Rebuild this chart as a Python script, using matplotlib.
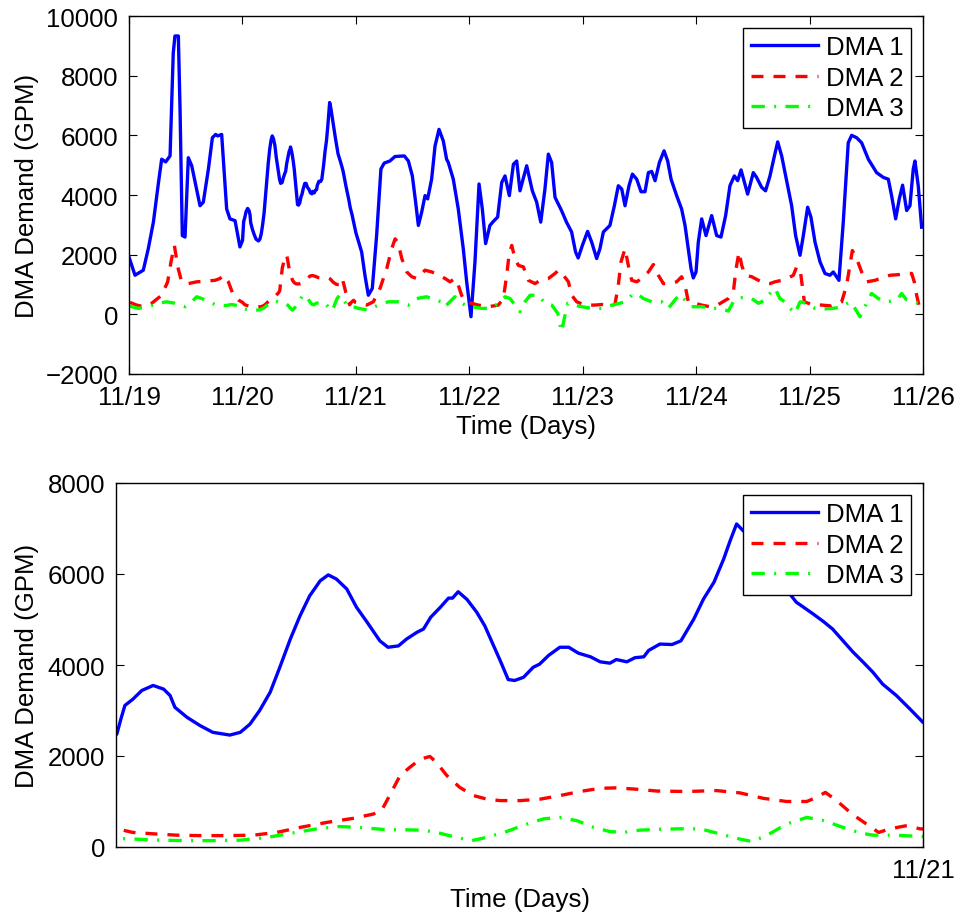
"""
DMA demand over one week, plus a zoom on a single day
"""
import matplotlib
matplotlib.use("Agg")
import matplotlib.pyplot as plt
import numpy as np

plt.rcParams['font.family'] = ['Liberation Sans', 'DejaVu Sans']
plt.rcParams['font.size'] = 18.6

DAY_LABELS = ["11/19", "11/20", "11/21", "11/22", "11/23", "11/24", "11/25", "11/26"]
NAMES = ["DMA 1", "DMA 2", "DMA 3"]

# (days after 11/19 00:00, demand in GPM)
DMA1 = [
    (0.0, 1920), (0.053, 1310), (0.126, 1480), (0.17, 2200), (0.215, 3090), (0.26, 4420),
    (0.288, 5200), (0.323, 5110), (0.362, 5310), (0.39, 8750), (0.405, 9330), (0.435, 9330),
    (0.45, 6870), (0.47, 2640), (0.494, 2590), (0.523, 5250), (0.553, 4980), (0.626, 3640),
    (0.655, 3760), (0.70, 4870), (0.735, 5920), (0.764, 6030), (0.782, 5980), (0.817, 6030),
    (0.861, 3530), (0.89, 3200), (0.935, 3140), (0.978, 2260),
    (1.001, 2480), (1.006, 2810), (1.011, 3110), (1.021, 3250), (1.032, 3440), (1.046, 3550),
    (1.059, 3470), (1.067, 3330), (1.073, 3070), (1.088, 2850), (1.104, 2670), (1.12, 2520),
    (1.141, 2460), (1.154, 2520), (1.166, 2700), (1.178, 3000), (1.191, 3400), (1.203, 3950),
    (1.216, 4570), (1.228, 5080), (1.24, 5520), (1.253, 5850), (1.263, 5980), (1.273, 5890),
    (1.286, 5670), (1.298, 5270), (1.31, 4970), (1.327, 4530), (1.337, 4390), (1.35, 4420),
    (1.36, 4570), (1.373, 4720), (1.381, 4790), (1.39, 5050), (1.402, 5270), (1.412, 5470),
    (1.417, 5470), (1.424, 5610), (1.435, 5440), (1.447, 5160), (1.457, 4860), (1.466, 4500),
    (1.476, 4100), (1.486, 3680), (1.494, 3660), (1.505, 3730), (1.517, 3950), (1.525, 4020),
    (1.536, 4210), (1.55, 4390), (1.561, 4390), (1.573, 4260), (1.588, 4180), (1.6, 4070),
    (1.612, 4040), (1.62, 4120), (1.633, 4070), (1.643, 4160), (1.654, 4180), (1.66, 4320),
    (1.674, 4460), (1.689, 4450), (1.7, 4530), (1.716, 5010), (1.728, 5450), (1.741, 5820),
    (1.753, 6330), (1.761, 6730), (1.769, 7100), (1.78, 6900), (1.80, 6400), (1.82, 5900),
    (1.843, 5380), (1.852, 5270), (1.864, 5120), (1.877, 4950), (1.888, 4790), (1.901, 4530),
    (1.913, 4290), (1.926, 4060), (1.938, 3840), (1.95, 3580), (1.967, 3330), (1.984, 3030),
    (2.0, 2740),
    (2.051, 2090), (2.08, 1310), (2.11, 640), (2.145, 870), (2.183, 2640), (2.221, 4870),
    (2.25, 5070), (2.30, 5140), (2.345, 5290), (2.427, 5310), (2.463, 5140), (2.498, 4640),
    (2.527, 3760), (2.551, 2980), (2.58, 3420), (2.61, 3980), (2.633, 3870), (2.668, 4530),
    (2.698, 5640), (2.733, 6200), (2.771, 5810), (2.80, 5200), (2.815, 5090), (2.859, 4530),
    (2.903, 3530), (2.947, 2200), (2.977, 1090), (3.015, -80), (3.05, 1750), (3.086, 4370),
    (3.115, 3530), (3.144, 2370), (3.182, 2980), (3.211, 3110), (3.25, 3260), (3.286, 4420),
    (3.315, 4640), (3.353, 3980), (3.389, 5030), (3.418, 5140), (3.447, 4140), (3.506, 4980),
    (3.556, 4140), (3.594, 3760), (3.63, 3090), (3.667, 4200), (3.697, 5370), (3.726, 5090),
    (3.756, 3920), (3.813, 3480), (3.857, 3090), (3.902, 2760), (3.937, 2090), (3.96, 1890),
    (3.997, 2310), (4.043, 2780), (4.079, 2420), (4.123, 1870), (4.152, 2200), (4.182, 2760),
    (4.24, 2980), (4.279, 3640), (4.314, 4310), (4.344, 4200), (4.373, 3640), (4.408, 4310),
    (4.438, 4700), (4.476, 4530), (4.514, 4110), (4.549, 4110), (4.579, 4750), (4.608, 4790),
    (4.638, 4480), (4.676, 5090), (4.717, 5480), (4.749, 5140), (4.779, 4530), (4.828, 3980),
    (4.872, 3530), (4.902, 2980), (4.931, 2200), (4.955, 1530), (4.975, 1220), (4.999, 1420),
    (5.019, 2420), (5.049, 3200), (5.087, 2640), (5.137, 3310), (5.181, 2640), (5.219, 2590),
    (5.26, 3310), (5.298, 4310), (5.337, 4640), (5.366, 4480), (5.396, 4840), (5.43, 4370),
    (5.454, 4030), (5.504, 4750), (5.533, 4590), (5.577, 4260), (5.612, 4140), (5.651, 4640),
    (5.69, 5310), (5.719, 5780), (5.754, 5310), (5.798, 4480), (5.842, 3640), (5.877, 2640),
    (5.916, 1980), (5.945, 2640), (5.983, 3590), (6.012, 3260), (6.048, 2420), (6.092, 1760),
    (6.136, 1370), (6.18, 1310), (6.209, 1420), (6.259, 1140), (6.297, 3090), (6.341, 5750),
    (6.371, 6000), (6.415, 5920), (6.459, 5750), (6.518, 5200), (6.591, 4750), (6.65, 4590),
    (6.694, 4530), (6.723, 3980), (6.759, 3200), (6.791, 3870), (6.82, 4330), (6.856, 3480),
    (6.885, 3640), (6.914, 4870), (6.929, 5140), (6.958, 4310), (6.988, 2920),
]

DMA2 = [
    (0.009, 400), (0.068, 310), (0.127, 255), (0.2, 370), (0.288, 640), (0.341, 1090),
    (0.37, 1750), (0.4, 2310), (0.43, 1590), (0.464, 1090), (0.523, 1030), (0.597, 1090),
    (0.67, 1110), (0.758, 1140), (0.802, 1200), (0.832, 1310), (0.876, 1090), (0.92, 640),
    (0.964, 480),
    (1.001, 400), (1.021, 320), (1.046, 290), (1.075, 260), (1.104, 250), (1.137, 250),
    (1.17, 260), (1.199, 320), (1.228, 430), (1.261, 540), (1.294, 630), (1.319, 725),
    (1.329, 800), (1.339, 1130), (1.352, 1570), (1.364, 1750), (1.377, 1930), (1.389, 1990),
    (1.397, 1860), (1.41, 1570), (1.426, 1310), (1.443, 1130), (1.46, 1050), (1.476, 1020),
    (1.501, 1020), (1.525, 1050), (1.55, 1130), (1.575, 1220), (1.6, 1290), (1.62, 1300),
    (1.645, 1270), (1.67, 1230), (1.707, 1220), (1.744, 1240), (1.773, 1190), (1.802, 1070),
    (1.831, 1000), (1.856, 1000), (1.868, 1090), (1.879, 1200), (1.893, 1020), (1.912, 725),
    (1.93, 505), (1.945, 320), (1.959, 400), (1.98, 470), (1.996, 400),
    (2.022, 370), (2.095, 310), (2.154, 420), (2.213, 870), (2.272, 1530), (2.316, 2200),
    (2.346, 2530), (2.37, 2420), (2.405, 1870), (2.449, 1420), (2.493, 1260), (2.537, 1200),
    (2.61, 1480), (2.67, 1420), (2.73, 1310), (2.787, 1200), (2.83, 1090), (2.873, 1200),
    (2.903, 980), (2.932, 640), (2.962, 420), (3.021, 370), (3.08, 310), (3.168, 255),
    (3.256, 310), (3.3, 530), (3.33, 1310), (3.35, 1980), (3.374, 2310), (3.403, 1870),
    (3.433, 1640), (3.477, 1590), (3.521, 1140), (3.58, 1030), (3.624, 1140), (3.697, 1200),
    (3.756, 1370), (3.786, 1480), (3.83, 1310), (3.874, 1090), (3.903, 640), (3.947, 420),
    (4.02, 310), (4.108, 310), (4.167, 330), (4.24, 300), (4.284, 330), (4.314, 980),
    (4.337, 1750), (4.373, 2200), (4.402, 1640), (4.432, 1140), (4.476, 1090), (4.52, 1200),
    (4.579, 1420), (4.623, 1670), (4.667, 1310), (4.711, 1030), (4.769, 1030), (4.828, 1090),
    (4.872, 1260), (4.902, 980), (4.931, 420), (4.99, 370), (5.049, 310), (5.122, 255),
    (5.196, 330), (5.284, 530), (5.328, 750), (5.352, 1530), (5.378, 2090), (5.402, 1640),
    (5.432, 1310), (5.49, 1260), (5.549, 1140), (5.608, 1030), (5.651, 1030), (5.695, 1090),
    (5.754, 1140), (5.813, 1220), (5.857, 1310), (5.886, 1590), (5.916, 1530), (5.939, 870),
    (5.954, 420), (6.018, 330), (6.107, 310), (6.195, 280), (6.283, 420), (6.327, 980),
    (6.356, 1640), (6.377, 2140), (6.415, 1870), (6.459, 1420), (6.503, 1090), (6.577, 1140),
    (6.635, 1220), (6.709, 1310), (6.782, 1330), (6.841, 1370), (6.9, 1370), (6.923, 1090),
    (6.944, 640), (6.964, 310), (6.988, 330),
]

DMA3 = [
    (0.0, 280), (0.082, 200), (0.17, 255), (0.259, 370), (0.332, 420), (0.406, 370),
    (0.494, 255), (0.553, 420), (0.597, 590), (0.641, 530), (0.7, 420), (0.773, 310),
    (0.847, 290), (0.905, 330), (0.979, 280),
    (1.001, 190), (1.021, 175), (1.054, 150), (1.087, 140), (1.12, 140), (1.154, 150),
    (1.187, 210), (1.22, 310), (1.249, 400), (1.277, 450), (1.302, 430), (1.335, 380),
    (1.352, 380), (1.381, 370), (1.402, 300), (1.422, 210), (1.441, 140), (1.459, 210),
    (1.484, 340), (1.505, 480), (1.53, 620), (1.55, 650), (1.571, 580), (1.592, 430),
    (1.612, 340), (1.629, 320), (1.649, 370), (1.674, 390), (1.699, 400), (1.724, 400),
    (1.748, 290), (1.773, 175), (1.788, 120), (1.806, 250), (1.831, 505), (1.856, 650),
    (1.877, 580), (1.901, 430), (1.922, 310), (1.938, 260), (1.963, 260), (2.0, 230),
    (2.022, 200), (2.11, 145), (2.198, 310), (2.286, 420), (2.374, 420), (2.463, 310),
    (2.536, 530), (2.624, 590), (2.698, 480), (2.757, 420), (2.786, 255), (2.845, 480),
    (2.873, 590), (2.918, 420), (2.962, 310), (3.021, 255), (3.109, 200), (3.197, 200),
    (3.271, 420), (3.315, 590), (3.359, 530), (3.403, 310), (3.447, 90), (3.491, 420),
    (3.536, 640), (3.609, 640), (3.668, 370), (3.727, 310), (3.78, 35), (3.8, -360),
    (3.815, -580), (3.838, -130), (3.868, 370), (3.918, 310), (3.991, 255), (4.079, 200),
    (4.167, 200), (4.196, 255), (4.284, 330), (4.373, 420), (4.432, 640), (4.476, 700),
    (4.535, 530), (4.608, 420), (4.696, 420), (4.755, 200), (4.813, 480), (4.857, 670),
    (4.902, 480), (4.96, 255), (5.049, 255), (5.137, 200), (5.21, 200), (5.284, 110),
    (5.328, 420), (5.372, 560), (5.432, 560), (5.49, 530), (5.549, 370), (5.608, 480),
    (5.651, 700), (5.695, 870), (5.739, 530), (5.798, 370), (5.842, 145), (5.872, 35),
    (5.916, 420), (5.975, 370), (6.048, 200), (6.121, 180), (6.209, 200), (6.283, 255),
    (6.356, 420), (6.4, 200), (6.444, -80), (6.488, 255), (6.547, 700), (6.606, 530),
    (6.665, 420), (6.723, 440), (6.782, 530), (6.811, 700), (6.856, 480), (6.914, 420),
    (6.958, 370), (6.988, 370),
]

STYLES = [
    dict(color=(0, 0, 1), linestyle='-'),
    dict(color=(1, 0, 0), dashes=(3.6, 3.0)),
    dict(color=(0, 1, 0), dashes=(4.0, 2.8, 0.6, 2.8)),
]


def plot_demand(ax):
    for data, name, style in zip([DMA1, DMA2, DMA3], NAMES, STYLES):
        t, v = np.array(data, dtype=float).T
        ax.plot(t, v, lw=2.4, label=name, **style)
    ax.set_ylabel("DMA Demand (GPM)")
    ax.set_xlabel("Time (Days)")
    ax.tick_params(direction='in', top=True, right=True, length=6, width=0.8, pad=8)
    for s in ax.spines.values():
        s.set_linewidth(1.0)
    ax.legend(loc='upper right', fancybox=False, framealpha=1, edgecolor='black',
              handlelength=2.6, handletextpad=0.3, labelspacing=0.25,
              borderpad=0.3, borderaxespad=0.45)
    ax.get_legend().get_frame().set_linewidth(1.0)


fig = plt.figure(figsize=(9.6, 9.2), dpi=100)

ax1 = fig.add_axes([129 / 960, 1 - 375 / 920, 794 / 960, 358 / 920])
plot_demand(ax1)
ax1.set_xlim(0, 7)
ax1.set_ylim(-2000, 10000)
ax1.set_yticks(np.arange(-2000, 10001, 2000))
ax1.set_xticks(np.arange(len(DAY_LABELS)))
ax1.set_xticklabels(DAY_LABELS)
ax1.yaxis.set_label_coords(-0.113, 0.5)
ax1.xaxis.set_label_coords(0.5, -0.113)

ax2 = fig.add_axes([116 / 960, 1 - 848 / 920, 807 / 960, 364 / 920])
plot_demand(ax2)
ax2.set_xlim(1, 2)
ax2.set_ylim(0, 8000)
ax2.set_yticks(np.arange(0, 8001, 2000))
ax2.set_xticks([2])
ax2.set_xticklabels([DAY_LABELS[2]])
ax2.yaxis.set_label_coords(-0.095, 0.5)
ax2.xaxis.set_label_coords(0.5, -0.11)

fig.savefig("out.png", dpi=100)
